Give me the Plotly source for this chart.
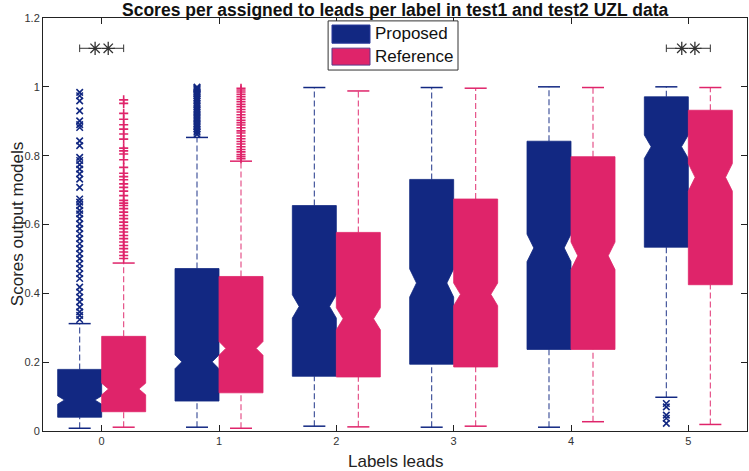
import plotly.graph_objects as go

# ---------------- data ----------------
labels = [0, 1, 2, 3, 4, 5]
tick_text = ["0", "1", "2", "3", "4", "5"]
y_ticks = [0, 0.2, 0.4, 0.6, 0.8, 1.0, 1.2]
y_tick_text = ["0", "0.2", "0.4", "0.6", "0.8", "1", "1.2"]

prop_lower = [0.008, 0.011, 0.014, 0.011, 0.011, 0.098]
prop_q1 = [0.040, 0.087, 0.159, 0.194, 0.237, 0.534]
prop_med = [0.090, 0.201, 0.362, 0.430, 0.532, 0.826]
prop_q3 = [0.179, 0.472, 0.655, 0.731, 0.842, 0.971]
prop_upper = [0.312, 0.853, 0.998, 0.998, 1.000, 1.000]
prop_notch = [0.012, 0.020, 0.034, 0.041, 0.040, 0.034]

ref_lower = [0.011, 0.008, 0.012, 0.014, 0.027, 0.019]
ref_q1 = [0.056, 0.111, 0.157, 0.186, 0.237, 0.425]
ref_med = [0.122, 0.240, 0.326, 0.397, 0.509, 0.737]
ref_q3 = [0.275, 0.449, 0.577, 0.674, 0.797, 0.932]
ref_upper = [0.488, 0.784, 0.988, 0.996, 0.998, 0.998]
ref_notch = [0.017, 0.020, 0.032, 0.033, 0.040, 0.040]

prop_outliers = {
    0: [0.984, 0.974, 0.959, 0.930, 0.901, 0.890, 0.882, 0.843, 0.829, 0.795,
        0.786, 0.774, 0.761, 0.747, 0.732, 0.708, 0.674, 0.665, 0.655, 0.641,
        0.631, 0.617, 0.602, 0.588, 0.573, 0.559, 0.544, 0.530, 0.515, 0.501,
        0.486, 0.472, 0.457, 0.443, 0.418, 0.404, 0.389, 0.375, 0.360, 0.346,
        0.336, 0.324],
    1: [0.862, 0.868, 0.871, 0.877, 0.883, 0.889, 0.894, 0.901, 0.907, 0.912,
        0.918, 0.925, 0.931, 0.936, 0.942, 0.948, 0.953, 0.959, 0.964, 0.969,
        0.974, 0.979, 0.983, 0.987, 0.991, 0.994, 0.997, 0.999],
    5: [0.080, 0.070, 0.046, 0.037, 0.022],
}
ref_outliers = {
    0: [0.962, 0.952, 0.923, 0.906, 0.890, 0.877, 0.863, 0.848, 0.822, 0.814,
        0.805, 0.788, 0.766, 0.749, 0.739, 0.730, 0.718, 0.708, 0.697, 0.684,
        0.670, 0.662, 0.655, 0.646, 0.636, 0.626, 0.617, 0.607, 0.597, 0.588,
        0.578, 0.568, 0.559, 0.549, 0.539, 0.530, 0.520, 0.510, 0.501],
    1: [0.791, 0.797, 0.803, 0.811, 0.818, 0.826, 0.834, 0.841, 0.849, 0.857,
        0.866, 0.872, 0.881, 0.889, 0.896, 0.903, 0.911, 0.919, 0.927, 0.934,
        0.942, 0.949, 0.957, 0.964, 0.971, 0.978, 0.985, 0.991, 0.996],
}

sig_groups = [0, 5]
sig_level = 1.112

# ---------------- style ----------------
BLUE = "#122882"
PINK = "#DF246A"
FONT = "Liberation Sans, Arial, sans-serif"
HALF_W = 0.1875   # half box width
OFFSET = 0.1875   # offset of each box from group tick
NOTCH_D = 0.058   # horizontal notch depth
CAP_HW = 0.094    # half cap width

fig = go.Figure()


def add_series(offset, lower, q1, med, q3, upper, notch, outliers, color, symbol):
    # boxes (notched polygons)
    for g, lo, a, m, b, hi, n in zip(labels, lower, q1, med, q3, upper, notch):
        c = g + offset
        xs = [c - HALF_W, c + HALF_W, c + HALF_W, c + HALF_W - NOTCH_D, c + HALF_W,
              c + HALF_W, c - HALF_W, c - HALF_W, c - HALF_W + NOTCH_D, c - HALF_W, c - HALF_W]
        ys = [a, a, m - n, m, m + n, b, b, m + n, m, m - n, a]
        fig.add_trace(go.Scatter(x=xs, y=ys, mode="lines", fill="toself",
                                 fillcolor=color, line=dict(color=color, width=0.8),
                                 showlegend=False, hoverinfo="skip"))
    # whiskers (dashed)
    wx, wy = [], []
    for g, lo, a, b, hi in zip(labels, lower, q1, q3, upper):
        c = g + offset
        wx += [c, c, None, c, c, None]
        wy += [b, hi, None, lo, a, None]
    fig.add_trace(go.Scatter(x=wx, y=wy, mode="lines",
                             line=dict(color=color, width=1.1, dash="6px,3px"),
                             opacity=0.85, showlegend=False, hoverinfo="skip"))
    # caps
    cx, cy = [], []
    for g, lo, hi in zip(labels, lower, upper):
        c = g + offset
        cx += [c - CAP_HW, c + CAP_HW, None, c - CAP_HW, c + CAP_HW, None]
        cy += [hi, hi, None, lo, lo, None]
    fig.add_trace(go.Scatter(x=cx, y=cy, mode="lines",
                             line=dict(color=color, width=1.5),
                             showlegend=False, hoverinfo="skip"))
    # outliers
    ox, oy = [], []
    for g, vals in outliers.items():
        ox += [g + offset] * len(vals)
        oy += vals
    fig.add_trace(go.Scatter(x=ox, y=oy, mode="markers",
                             marker=dict(symbol=symbol, size=6.5, color=color,
                                         line=dict(color=color, width=1.6)),
                             showlegend=False, hoverinfo="skip"))


add_series(-OFFSET, prop_lower, prop_q1, prop_med, prop_q3, prop_upper, prop_notch,
           prop_outliers, BLUE, "x-thin")
add_series(+OFFSET, ref_lower, ref_q1, ref_med, ref_q3, ref_upper, ref_notch,
           ref_outliers, PINK, "cross-thin")

# significance markers
for g in sig_groups:
    x0, x1 = g - OFFSET, g + OFFSET
    fig.add_trace(go.Scatter(
        x=[x0, x0, None, x0, g - 0.1, None, g + 0.1, x1, None, x1, x1],
        y=[sig_level - 0.011, sig_level + 0.011, None, sig_level, sig_level, None,
           sig_level, sig_level, None, sig_level - 0.011, sig_level + 0.011],
        mode="lines", line=dict(color="#333333", width=1),
        showlegend=False, hoverinfo="skip"))
    fig.add_trace(go.Scatter(
        x=[g - 0.056, g + 0.056], y=[sig_level, sig_level], mode="markers",
        marker=dict(symbol="asterisk-open", size=11, color="#333333",
                    line=dict(color="#333333", width=1.3)),
        showlegend=False, hoverinfo="skip"))

# ---------------- legend (drawn) ----------------
shapes = [
    dict(type="rect", xref="paper", yref="paper", x0=0.405, x1=0.5895, y0=0.874, y1=0.993,
         line=dict(color="#333333", width=1), fillcolor="white", layer="above"),
    dict(type="rect", xref="paper", yref="paper", x0=0.4105, x1=0.4645, y0=0.939, y1=0.983,
         line=dict(color="#2a3a9a", width=1), fillcolor=BLUE, layer="above"),
    dict(type="rect", xref="paper", yref="paper", x0=0.4105, x1=0.4645, y0=0.886, y1=0.927,
         line=dict(color="#5a3a8a", width=1), fillcolor=PINK, layer="above"),
]
annotations = [
    dict(text="Proposed", xref="paper", yref="paper", x=0.469, y=0.962, xanchor="left",
         yanchor="middle", showarrow=False, font=dict(family=FONT, size=17, color="#111111")),
    dict(text="Reference", xref="paper", yref="paper", x=0.469, y=0.907, xanchor="left",
         yanchor="middle", showarrow=False, font=dict(family=FONT, size=17, color="#111111")),
    dict(text="<b>Scores per assigned to leads per label in test1 and test2 UZL data</b>",
         xref="paper", yref="paper", x=0.5, y=1.02, xanchor="center", yanchor="middle",
         showarrow=False, font=dict(family=FONT, size=17.5, color="#111111")),
    dict(text="Labels leads", xref="paper", yref="paper", x=0.5, y=-0.073,
         xanchor="center", yanchor="middle", showarrow=False,
         font=dict(family=FONT, size=17, color="#222222")),
    dict(text="Scores output models", xref="paper", yref="paper", x=-0.036, y=0.5,
         xanchor="center", yanchor="middle", textangle=-90, showarrow=False,
         font=dict(family=FONT, size=17, color="#222222")),
]

fig.update_layout(
    width=749, height=471,
    margin=dict(l=43, r=2, t=18, b=40),
    paper_bgcolor="white", plot_bgcolor="white",
    font=dict(family=FONT, size=11, color="#333333"),
    shapes=shapes, annotations=annotations,
    showlegend=False,
)
fig.update_xaxes(range=[-0.5, 5.5], tickvals=labels, ticktext=tick_text,
                 showgrid=False, zeroline=False, showline=True, linecolor="#222222",
                 linewidth=1, mirror="ticks", ticks="inside", ticklen=6,
                 tickcolor="#222222", tickfont=dict(size=11, color="#333333"))
fig.update_yaxes(range=[0, 1.2], tickvals=y_ticks, ticktext=y_tick_text,
                 showgrid=False, zeroline=False, showline=True, linecolor="#222222",
                 linewidth=1, mirror="ticks", ticks="inside", ticklen=6,
                 tickcolor="#222222", tickfont=dict(size=11, color="#333333"))

fig.write_html("out.html", config={"displayModeBar": False},
               post_script="document.body.style.margin='0';document.body.style.padding='0';")
